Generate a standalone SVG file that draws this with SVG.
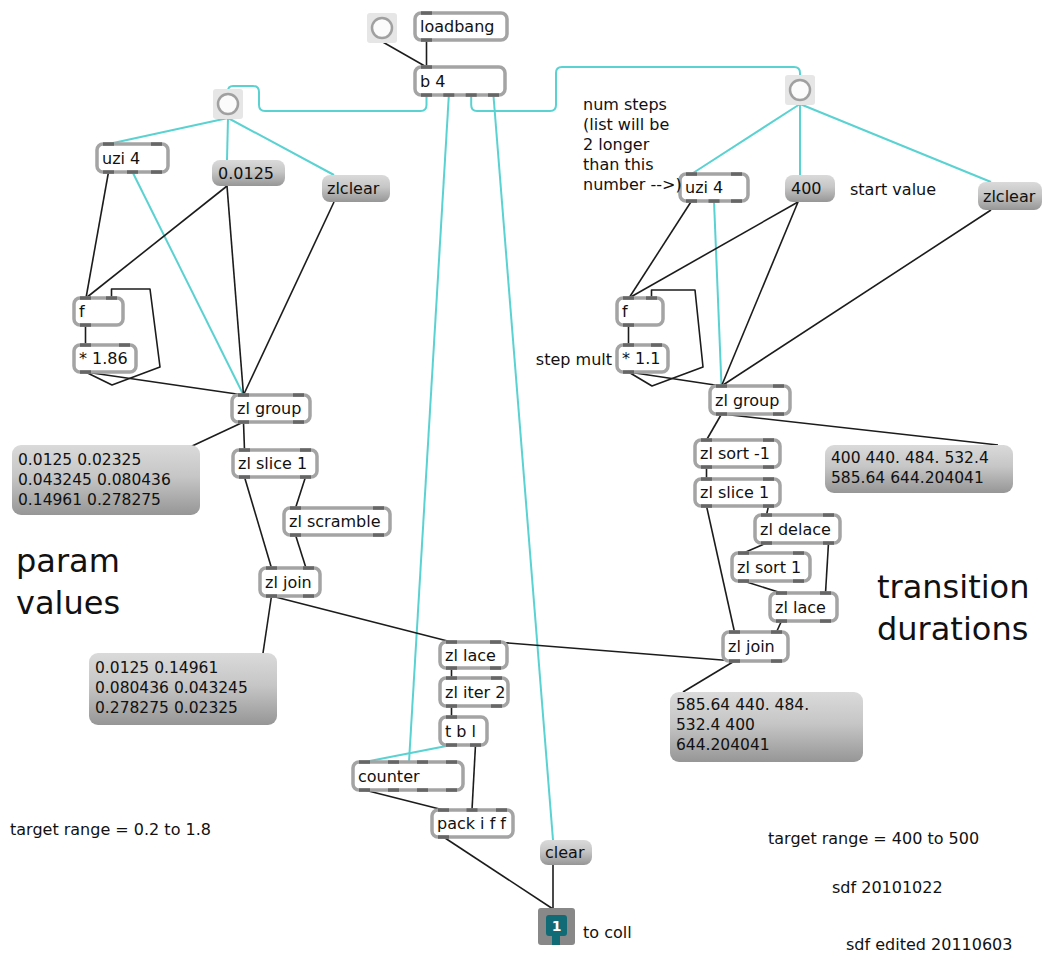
<svg xmlns="http://www.w3.org/2000/svg" width="1046" height="956" viewBox="0 0 1046 956">
<style>
  .obj { fill: #ffffff; stroke: #a4a4a4; stroke-width: 3.5; }
  .io { fill: #666666; }
  .msg { fill: url(#msgGrad); }
  .t { font-family: "DejaVu Sans", "Liberation Sans", sans-serif; font-size: 16px; fill: #111; }
  .m { font-family: "DejaVu Sans", "Liberation Sans", sans-serif; font-size: 15.5px; fill: #111; }
  .big { font-family: "DejaVu Sans", "Liberation Sans", sans-serif; font-size: 32px; fill: #111; }
  .bangbg { fill: #e6e6e6; }
  .bang { fill: #fbfbfb; stroke: #a0a0a0; stroke-width: 2.5; }
  .c { stroke: #1c1c1c; stroke-width: 1.6; fill: none; stroke-linejoin: round; }
  .b { stroke: #5ad2d2; stroke-width: 2; fill: none; stroke-linejoin: round; }
</style>
<defs>
  <linearGradient id="msgGrad" x1="0" y1="0" x2="0" y2="1">
    <stop offset="0" stop-color="#dadada"/>
    <stop offset="0.45" stop-color="#c6c6c6"/>
    <stop offset="1" stop-color="#969696"/>
  </linearGradient>
</defs>
<rect width="1046" height="956" fill="#ffffff"/>

<!-- patch cords -->
<g id="connectors">
  <!-- bang cords (cyan) -->
  <path class="b" d="M426.5,96 V105 Q426.5,111 420.5,111 H265 Q259,111 259,105 V92 Q259,86 253,86 H233 Q228,86 228,91"/>
  <path class="b" d="M471.2,96 V105 Q471.2,111 477,111 H550 Q556,111 556,105 V73 Q556,67 562,67 H794 Q800,67 800,73 V77"/>
  <line class="b" x1="448.8" y1="96" x2="409" y2="762"/>
  <line class="b" x1="493.5" y1="96" x2="553" y2="840"/>
  <line class="b" x1="228" y1="118" x2="108.5" y2="144"/>
  <line class="b" x1="228" y1="118" x2="227" y2="160"/>
  <line class="b" x1="228" y1="118" x2="334" y2="175"/>
  <line class="b" x1="132.5" y1="172" x2="243.5" y2="395"/>
  <line class="b" x1="800" y1="104" x2="691.5" y2="174"/>
  <line class="b" x1="800" y1="104" x2="800" y2="175"/>
  <line class="b" x1="800" y1="104" x2="991" y2="182"/>
  <line class="b" x1="714" y1="201" x2="721.5" y2="386"/>
  <line class="b" x1="451.5" y1="745" x2="364.5" y2="762"/>

  <!-- top -->
  <line class="c" x1="381" y1="41" x2="426.5" y2="67"/>
  <line class="c" x1="426.5" y1="40" x2="426.5" y2="67"/>

  <!-- left chain -->
  <line class="c" x1="108.5" y1="172" x2="86" y2="298"/>
  <line class="c" x1="227" y1="186" x2="86" y2="298"/>
  <line class="c" x1="227" y1="186" x2="243.5" y2="395"/>
  <line class="c" x1="334" y1="202" x2="243.5" y2="395"/>
  <polyline class="c" points="85.5,372 112,385 160,367 150,289 111.5,289 111.5,298"/>
  <line class="c" x1="85.5" y1="325" x2="85.5" y2="345"/>
  <line class="c" x1="85.5" y1="372" x2="243.5" y2="395"/>
  <line class="c" x1="243.5" y1="422" x2="244.5" y2="450"/>
  <line class="c" x1="243.5" y1="422" x2="190" y2="447"/>
  <line class="c" x1="244.5" y1="477" x2="271.5" y2="568"/>
  <line class="c" x1="305.5" y1="477" x2="295.5" y2="508"/>
  <line class="c" x1="295.5" y1="535" x2="306" y2="568"/>
  <line class="c" x1="271.5" y1="596" x2="263" y2="653"/>
  <line class="c" x1="271.5" y1="596" x2="451.5" y2="642"/>

  <!-- middle chain -->
  <line class="c" x1="734.5" y1="661" x2="495.5" y2="642"/>
  <line class="c" x1="451.5" y1="668" x2="451.5" y2="678"/>
  <line class="c" x1="451.5" y1="706" x2="451.5" y2="717"/>
  <line class="c" x1="475.5" y1="745" x2="472" y2="810"/>
  <line class="c" x1="364.5" y1="790" x2="443.5" y2="810"/>
  <line class="c" x1="443.5" y1="837" x2="553" y2="909"/>
  <line class="c" x1="553" y1="865" x2="553" y2="909"/>

  <!-- right chain -->
  <line class="c" x1="691.5" y1="201" x2="629" y2="298"/>
  <line class="c" x1="798" y1="202" x2="629" y2="298"/>
  <line class="c" x1="798" y1="202" x2="721.5" y2="386"/>
  <line class="c" x1="991" y1="210" x2="721.5" y2="386"/>
  <polyline class="c" points="628.5,372 652,386 703,367 695,290 651.5,290 651.5,298"/>
  <line class="c" x1="628.5" y1="325" x2="628.5" y2="345"/>
  <line class="c" x1="628.5" y1="372" x2="721.5" y2="386"/>
  <line class="c" x1="721.5" y1="414" x2="706.5" y2="440"/>
  <line class="c" x1="721.5" y1="414" x2="998" y2="445"/>
  <line class="c" x1="706.5" y1="467" x2="706.5" y2="479"/>
  <line class="c" x1="706.5" y1="506" x2="734.5" y2="632"/>
  <line class="c" x1="768.5" y1="506" x2="766.5" y2="515"/>
  <line class="c" x1="766.5" y1="543" x2="743.5" y2="553"/>
  <line class="c" x1="828.5" y1="543" x2="825.5" y2="593"/>
  <line class="c" x1="743.5" y1="581" x2="781.5" y2="593"/>
  <line class="c" x1="781.5" y1="621" x2="776.5" y2="632"/>
  <line class="c" x1="734.5" y1="661" x2="683" y2="692"/>
</g>

<!-- bangs -->
<g id="bang-top"><rect class="bangbg" x="367" y="13" width="30" height="30" rx="3"/><circle class="bang" cx="382" cy="28" r="10"/></g>
<g id="bang-left"><rect class="bangbg" x="213" y="89" width="30" height="30" rx="3"/><circle class="bang" cx="228" cy="104" r="10"/></g>
<g id="bang-right"><rect class="bangbg" x="785" y="75" width="30" height="30" rx="3"/><circle class="bang" cx="800" cy="90" r="10"/></g>

<!-- objects -->
<g id="loadbang"><rect class="obj" x="415" y="13" width="92" height="27" rx="6"/><rect class="io" x="421" y="11.3" width="11" height="3.5"/><rect class="io" x="421" y="38.3" width="11" height="3.5"/><text class="t" x="420" y="32">loadbang</text></g>
<g id="b4"><rect class="obj" x="415" y="67" width="90" height="28" rx="6"/><rect class="io" x="421" y="65.3" width="11" height="3.5"/><rect class="io" x="421" y="93.3" width="11" height="3.5"/><rect class="io" x="443.3" y="93.3" width="11" height="3.5"/><rect class="io" x="465.7" y="93.3" width="11" height="3.5"/><rect class="io" x="488" y="93.3" width="11" height="3.5"/><text class="t" x="420" y="87">b 4</text></g>

<g id="uzi-left"><rect class="obj" x="97" y="144" width="71" height="28" rx="6"/><rect class="io" x="103" y="142.3" width="11" height="3.5"/><rect class="io" x="151" y="142.3" width="11" height="3.5"/><rect class="io" x="103" y="170.3" width="11" height="3.5"/><rect class="io" x="127" y="170.3" width="11" height="3.5"/><rect class="io" x="151" y="170.3" width="11" height="3.5"/><text class="t" x="102" y="164">uzi 4</text></g>
<g id="msg-0.0125"><rect class="msg" x="212" y="160" width="73" height="26" rx="8"/><text class="t" x="218" y="179">0.0125</text></g>
<g id="zlclear-left"><rect class="msg" x="322" y="175" width="68" height="27" rx="8"/><text class="t" x="327" y="194">zlclear</text></g>
<g id="f-left"><rect class="obj" x="74" y="298" width="49" height="27" rx="6"/><rect class="io" x="80" y="296.3" width="11" height="3.5"/><rect class="io" x="106" y="296.3" width="11" height="3.5"/><rect class="io" x="80" y="323.3" width="11" height="3.5"/><text class="t" x="79" y="317">f</text></g>
<g id="mul-left"><rect class="obj" x="74" y="345" width="62" height="27" rx="6"/><rect class="io" x="80" y="343.3" width="11" height="3.5"/><rect class="io" x="119" y="343.3" width="11" height="3.5"/><rect class="io" x="80" y="370.3" width="11" height="3.5"/><text class="t" x="79" y="364">* 1.86</text></g>
<g id="zlgroup-left"><rect class="obj" x="232" y="395" width="78" height="27" rx="6"/><rect class="io" x="238" y="393.3" width="11" height="3.5"/><rect class="io" x="293" y="393.3" width="11" height="3.5"/><rect class="io" x="238" y="420.3" width="11" height="3.5"/><rect class="io" x="293" y="420.3" width="11" height="3.5"/><text class="t" x="237" y="414">zl group</text></g>
<g id="zlslice-left"><rect class="obj" x="233" y="450" width="84" height="27" rx="6"/><rect class="io" x="239" y="448.3" width="11" height="3.5"/><rect class="io" x="300" y="448.3" width="11" height="3.5"/><rect class="io" x="239" y="475.3" width="11" height="3.5"/><rect class="io" x="300" y="475.3" width="11" height="3.5"/><text class="t" x="238" y="469">zl slice 1</text></g>
<g id="zlscramble"><rect class="obj" x="284" y="508" width="106" height="27" rx="6"/><rect class="io" x="290" y="506.3" width="11" height="3.5"/><rect class="io" x="373" y="506.3" width="11" height="3.5"/><rect class="io" x="290" y="533.3" width="11" height="3.5"/><rect class="io" x="373" y="533.3" width="11" height="3.5"/><text class="t" x="289" y="527">zl scramble</text></g>
<g id="zljoin-left"><rect class="obj" x="260" y="568" width="60" height="28" rx="6"/><rect class="io" x="266" y="566.3" width="11" height="3.5"/><rect class="io" x="303" y="566.3" width="11" height="3.5"/><rect class="io" x="266" y="594.3" width="11" height="3.5"/><rect class="io" x="303" y="594.3" width="11" height="3.5"/><text class="t" x="265" y="588">zl join</text></g>
<g id="msg-params-sorted"><rect class="msg" x="12" y="445" width="188" height="70" rx="9"/><text class="m" x="18" y="465">0.0125 0.02325</text><text class="m" x="18" y="485">0.043245 0.080436</text><text class="m" x="18" y="505">0.14961 0.278275</text></g>
<g id="msg-params-mixed"><rect class="msg" x="89" y="653" width="188" height="72" rx="9"/><text class="m" x="95" y="673">0.0125 0.14961</text><text class="m" x="95" y="693">0.080436 0.043245</text><text class="m" x="95" y="713">0.278275 0.02325</text></g>

<g id="zllace-mid"><rect class="obj" x="440" y="642" width="67" height="26" rx="6"/><rect class="io" x="446" y="640.3" width="11" height="3.5"/><rect class="io" x="490" y="640.3" width="11" height="3.5"/><rect class="io" x="446" y="666.3" width="11" height="3.5"/><rect class="io" x="490" y="666.3" width="11" height="3.5"/><text class="t" x="445" y="661">zl lace</text></g>
<g id="zliter"><rect class="obj" x="440" y="678" width="68" height="28" rx="6"/><rect class="io" x="446" y="676.3" width="11" height="3.5"/><rect class="io" x="491" y="676.3" width="11" height="3.5"/><rect class="io" x="446" y="704.3" width="11" height="3.5"/><rect class="io" x="491" y="704.3" width="11" height="3.5"/><text class="t" x="445" y="698">zl iter 2</text></g>
<g id="tbl"><rect class="obj" x="440" y="717" width="47" height="28" rx="6"/><rect class="io" x="446" y="715.3" width="11" height="3.5"/><rect class="io" x="446" y="743.3" width="11" height="3.5"/><rect class="io" x="470" y="743.3" width="11" height="3.5"/><text class="t" x="445" y="737">t b l</text></g>
<g id="counter"><rect class="obj" x="353" y="762" width="110" height="28" rx="6"/><rect class="io" x="359" y="760.3" width="11" height="3.5"/><rect class="io" x="388" y="760.3" width="11" height="3.5"/><rect class="io" x="417" y="760.3" width="11" height="3.5"/><rect class="io" x="446" y="760.3" width="11" height="3.5"/><rect class="io" x="359" y="788.3" width="11" height="3.5"/><rect class="io" x="388" y="788.3" width="11" height="3.5"/><rect class="io" x="417" y="788.3" width="11" height="3.5"/><rect class="io" x="446" y="788.3" width="11" height="3.5"/><text class="t" x="358" y="782">counter</text></g>
<g id="pack"><rect class="obj" x="432" y="810" width="81" height="27" rx="6"/><rect class="io" x="438" y="808.3" width="11" height="3.5"/><rect class="io" x="466.5" y="808.3" width="11" height="3.5"/><rect class="io" x="496" y="808.3" width="11" height="3.5"/><rect class="io" x="438" y="835.3" width="11" height="3.5"/><text class="t" x="437" y="829">pack i f f</text></g>
<g id="msg-clear"><rect class="msg" x="540" y="840" width="52" height="25" rx="8"/><text class="t" x="545" y="858">clear</text></g>
<g id="outlet-1"><rect x="538" y="908" width="37" height="37" rx="3" fill="#888888"/><rect x="546" y="915" width="21" height="21" rx="3" fill="#106b77"/><rect x="552" y="933" width="8" height="12" fill="#106b77"/><text x="556.5" y="931" text-anchor="middle" font-family="DejaVu Sans, sans-serif" font-size="14" font-weight="bold" fill="#ffffff">1</text></g>

<g id="uzi-right"><rect class="obj" x="680" y="174" width="68" height="27" rx="6"/><rect class="io" x="686" y="172.3" width="11" height="3.5"/><rect class="io" x="731" y="172.3" width="11" height="3.5"/><rect class="io" x="686" y="199.3" width="11" height="3.5"/><rect class="io" x="708.5" y="199.3" width="11" height="3.5"/><rect class="io" x="731" y="199.3" width="11" height="3.5"/><text class="t" x="685" y="193">uzi 4</text></g>
<g id="msg-400"><rect class="msg" x="785" y="175" width="50" height="27" rx="8"/><text class="t" x="791" y="194">400</text></g>
<g id="zlclear-right"><rect class="msg" x="978" y="182" width="64" height="28" rx="8"/><text class="t" x="983" y="202">zlclear</text></g>
<g id="f-right"><rect class="obj" x="617" y="298" width="46" height="27" rx="6"/><rect class="io" x="623" y="296.3" width="11" height="3.5"/><rect class="io" x="646" y="296.3" width="11" height="3.5"/><rect class="io" x="623" y="323.3" width="11" height="3.5"/><text class="t" x="622" y="317">f</text></g>
<g id="mul-right"><rect class="obj" x="617" y="345" width="51" height="27" rx="6"/><rect class="io" x="623" y="343.3" width="11" height="3.5"/><rect class="io" x="651" y="343.3" width="11" height="3.5"/><rect class="io" x="623" y="370.3" width="11" height="3.5"/><text class="t" x="622" y="364">* 1.1</text></g>
<g id="zlgroup-right"><rect class="obj" x="710" y="386" width="80" height="28" rx="6"/><rect class="io" x="716" y="384.3" width="11" height="3.5"/><rect class="io" x="773" y="384.3" width="11" height="3.5"/><rect class="io" x="716" y="412.3" width="11" height="3.5"/><rect class="io" x="773" y="412.3" width="11" height="3.5"/><text class="t" x="715" y="406">zl group</text></g>
<g id="zlsort-desc"><rect class="obj" x="695" y="440" width="85" height="27" rx="6"/><rect class="io" x="701" y="438.3" width="11" height="3.5"/><rect class="io" x="763" y="438.3" width="11" height="3.5"/><rect class="io" x="701" y="465.3" width="11" height="3.5"/><rect class="io" x="763" y="465.3" width="11" height="3.5"/><text class="t" x="700" y="459">zl sort -1</text></g>
<g id="zlslice-right"><rect class="obj" x="695" y="479" width="85" height="27" rx="6"/><rect class="io" x="701" y="477.3" width="11" height="3.5"/><rect class="io" x="763" y="477.3" width="11" height="3.5"/><rect class="io" x="701" y="504.3" width="11" height="3.5"/><rect class="io" x="763" y="504.3" width="11" height="3.5"/><text class="t" x="700" y="498">zl slice 1</text></g>
<g id="zldelace"><rect class="obj" x="755" y="515" width="85" height="28" rx="6"/><rect class="io" x="761" y="513.3" width="11" height="3.5"/><rect class="io" x="823" y="513.3" width="11" height="3.5"/><rect class="io" x="761" y="541.3" width="11" height="3.5"/><rect class="io" x="823" y="541.3" width="11" height="3.5"/><text class="t" x="760" y="535">zl delace</text></g>
<g id="zlsort-asc"><rect class="obj" x="732" y="553" width="78" height="28" rx="6"/><rect class="io" x="738" y="551.3" width="11" height="3.5"/><rect class="io" x="793" y="551.3" width="11" height="3.5"/><rect class="io" x="738" y="579.3" width="11" height="3.5"/><rect class="io" x="793" y="579.3" width="11" height="3.5"/><text class="t" x="737" y="573">zl sort 1</text></g>
<g id="zllace-right"><rect class="obj" x="770" y="593" width="67" height="28" rx="6"/><rect class="io" x="776" y="591.3" width="11" height="3.5"/><rect class="io" x="820" y="591.3" width="11" height="3.5"/><rect class="io" x="776" y="619.3" width="11" height="3.5"/><rect class="io" x="820" y="619.3" width="11" height="3.5"/><text class="t" x="775" y="613">zl lace</text></g>
<g id="zljoin-right"><rect class="obj" x="723" y="632" width="65" height="29" rx="6"/><rect class="io" x="729" y="630.3" width="11" height="3.5"/><rect class="io" x="771" y="630.3" width="11" height="3.5"/><rect class="io" x="729" y="659.3" width="11" height="3.5"/><rect class="io" x="771" y="659.3" width="11" height="3.5"/><text class="t" x="728" y="652">zl join</text></g>
<g id="msg-durations-sorted"><rect class="msg" x="825" y="445" width="188" height="48" rx="9"/><text class="m" x="831" y="463">400 440. 484. 532.4</text><text class="m" x="831" y="483">585.64 644.204041</text></g>
<g id="msg-durations-mixed"><rect class="msg" x="670" y="692" width="193" height="70" rx="9"/><text class="m" x="676" y="710">585.64 440. 484.</text><text class="m" x="676" y="730">532.4 400</text><text class="m" x="676" y="750">644.204041</text></g>

<!-- comments -->
<g id="comments">
  <text class="t"><tspan x="583" y="110">num steps</tspan><tspan x="583" y="130">(list will be</tspan><tspan x="583" y="150">2 longer</tspan><tspan x="583" y="170">than this</tspan><tspan x="583" y="190">number --&gt;)</tspan></text>
  <text class="t" x="850" y="195">start value</text>
  <text class="t" x="612" y="365" text-anchor="end">step mult</text>
  <text class="big"><tspan x="16" y="572">param</tspan><tspan x="16" y="614">values</tspan></text>
  <text class="big"><tspan x="877" y="598">transition</tspan><tspan x="877" y="640">durations</tspan></text>
  <text class="t" x="10" y="835">target range = 0.2 to 1.8</text>
  <text class="t" x="768" y="844">target range = 400 to 500</text>
  <text class="t" x="832" y="893">sdf 20101022</text>
  <text class="t" x="846" y="950">sdf edited 20110603</text>
  <text class="t" x="583" y="938">to coll</text>
</g>
</svg>
